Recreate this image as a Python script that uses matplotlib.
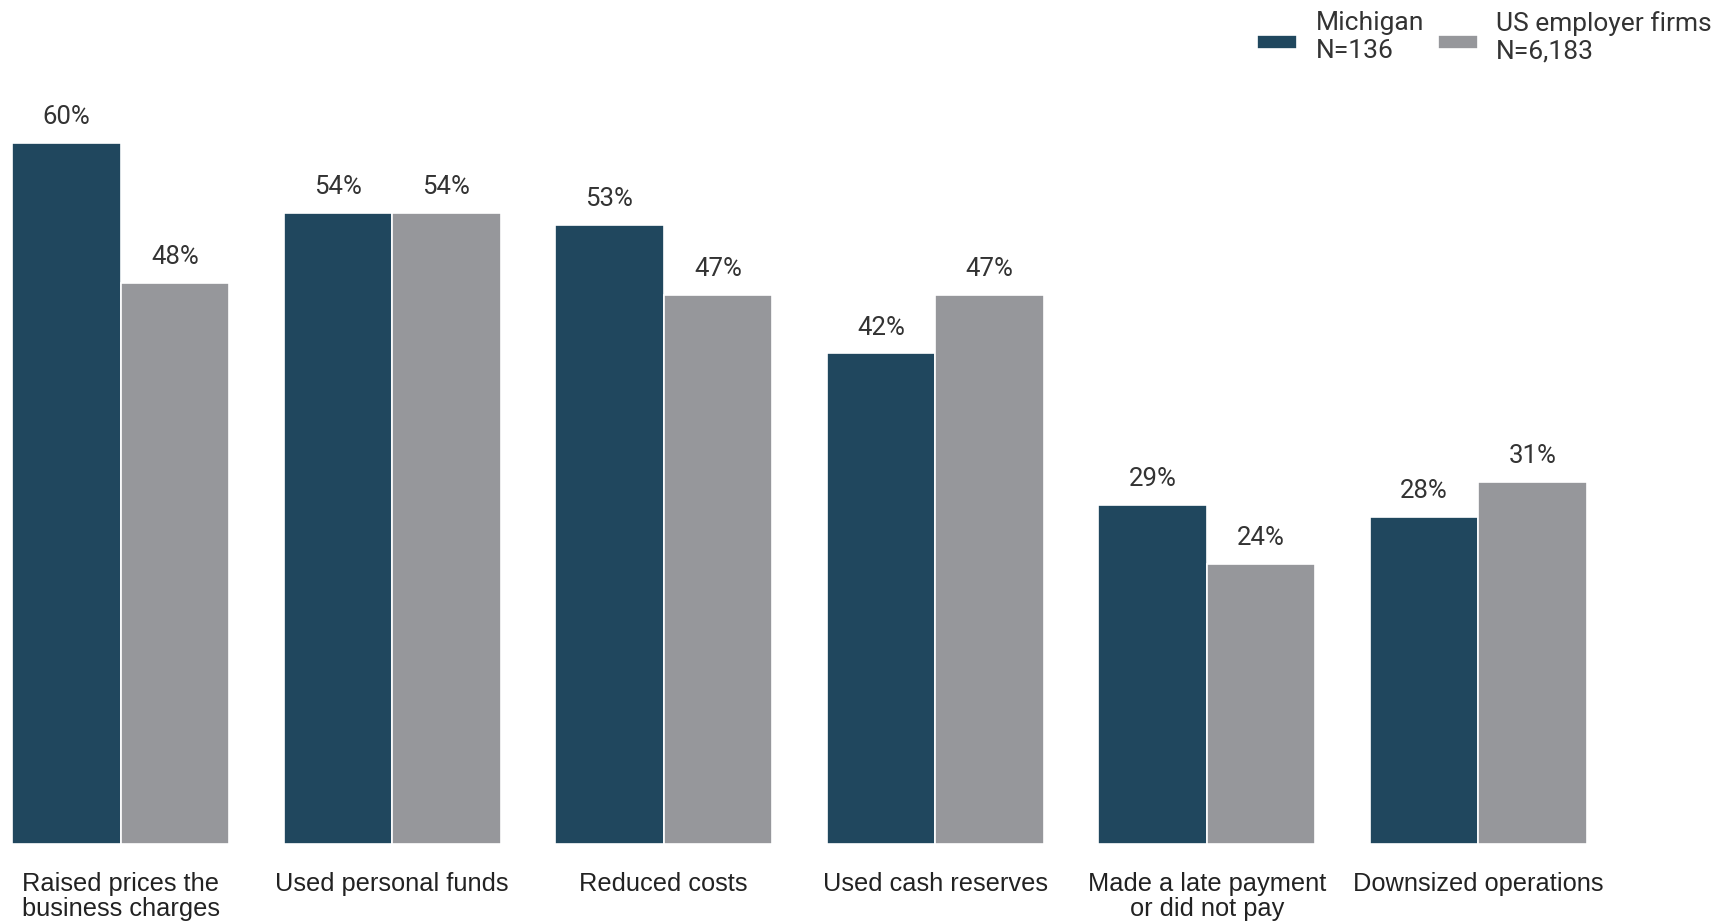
import numpy as np
import matplotlib.pyplot as plt

# data
categories = ["Raised prices the\nbusiness charges", "Used personal funds", "Reduced costs",
              "Used cash reserves", "Made a late payment\nor did not pay", "Downsized operations"]
michigan = [60, 54, 53, 42, 29, 28]
us_firms = [48, 54, 47, 47, 24, 31]
series_names = ["Michigan\nN=136", "US employer firms\nN=6,183"]

navy = "#20475e"
grey = "#96979b"

W, H = 1724, 923
fig = plt.figure(figsize=(W / 100, H / 100), dpi=100)
ax = fig.add_axes([12 / W, (H - 844) / H, 1575 / W, 70 * 11.68 / H])

x = np.arange(len(categories))
bw = 0.4
b1 = ax.bar(x - bw / 2, michigan, bw, color=navy, edgecolor="white", linewidth=1.2, label=series_names[0])
b2 = ax.bar(x + bw / 2, us_firms, bw, color=grey, edgecolor="white", linewidth=1.2, label=series_names[1])

for bars, vals in [(b1, michigan), (b2, us_firms)]:
    for b, v in zip(bars, vals):
        ax.annotate(f"{v}%", (b.get_x() + b.get_width() / 2, v), xytext=(0, 10),
                    textcoords="offset points", ha="center", va="bottom",
                    fontsize=18.5, color="#333333", family="Roboto")

ax.set_xlim(-0.4, 5.4)
ax.set_ylim(0, 70)
ax.set_xticks(x)
ax.set_xticklabels(categories, fontsize=18.3, color="#222222", family="Liberation Sans",
                   linespacing=1.08)
ax.tick_params(axis="x", length=0, pad=20)
ax.set_yticks([])
for s in ax.spines.values():
    s.set_visible(False)

leg = fig.legend(loc="upper right", bbox_to_anchor=(1712 / W, 1 - 11 / H), ncol=2, frameon=False,
                 borderaxespad=0, borderpad=0, handlelength=1.5, handleheight=0.45,
                 handletextpad=0.7, columnspacing=0.55,
                 prop={"family": "Roboto", "size": 19}, labelcolor="#333333")
# the swatches sit a little below the middle of the two-line labels
for h in leg.legend_handles:
    h.set_y(h.get_y() - 3)

fig.savefig("out.png", dpi=100)
